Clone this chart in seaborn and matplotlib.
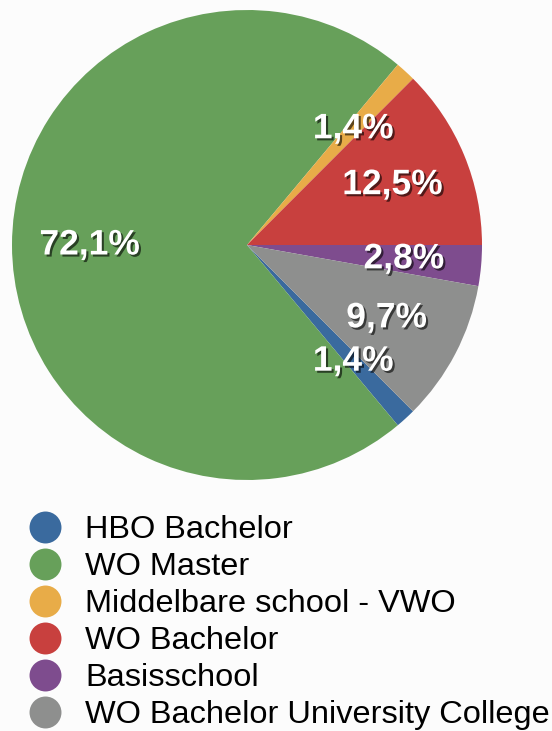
import matplotlib
matplotlib.use("Agg")
import matplotlib.pyplot as plt
import matplotlib.patheffects as pe
from matplotlib.lines import Line2D
import seaborn as sns

# --- data ---
categorieen = ["HBO Bachelor", "WO Master", "Middelbare school - VWO",
               "WO Bachelor", "Basisschool", "WO Bachelor University College"]
percentages = [1.4, 72.1, 1.4, 12.5, 2.8, 9.7]
kleuren = ["#3a6a9e", "#67a05a", "#e8ac48", "#c8403e", "#7e4c8e", "#8e8f8e"]

sns.set_theme(style="white")
plt.rcParams["font.family"] = ["Liberation Sans", "DejaVu Sans"]

W, H = 552, 731
fig = plt.figure(figsize=(W / 100, H / 100), dpi=100, facecolor="#fcfcfc")

# pie: centre (247, 245) px, radius 235 px
cx, cy, r = 247, 245, 235
ax = fig.add_axes([(cx - r) / W, (H - cy - r) / H, 2 * r / W, 2 * r / H])
ax.set_facecolor("#fcfcfc")

totaal = sum(percentages)
start = -360 * (percentages[4] + percentages[5]) / totaal
wedges, _, autotexts = ax.pie(
    percentages, colors=kleuren, startangle=start, counterclock=False,
    autopct=lambda p: f"{p * totaal / 100:.1f}%".replace(".", ","),
    pctdistance=0.67, wedgeprops=dict(linewidth=0),
    textprops=dict(color="white", fontsize=25.5, fontweight="bold"))
for t in autotexts:
    t.set_path_effects([pe.withSimplePatchShadow(offset=(1.5, -1.5),
                                                 shadow_rgbFace="black", alpha=0.6)])
ax.set_xlim(-1, 1)
ax.set_ylim(-1, 1)
ax.axis("off")

handles = [Line2D([], [], marker="o", linestyle="", markersize=23,
                  markerfacecolor=c, markeredgecolor="none") for c in kleuren]
leg = fig.legend(handles, categorieen, loc="upper left",
                 bbox_to_anchor=(24 / W, (H - 515) / H), frameon=False,
                 fontsize=23.4, handlelength=1.3, handletextpad=0.58,
                 labelspacing=0.215, borderpad=0, borderaxespad=0)
for t in leg.get_texts():
    t.set_color("black")

plt.savefig("out.png", dpi=100, facecolor=fig.get_facecolor())
